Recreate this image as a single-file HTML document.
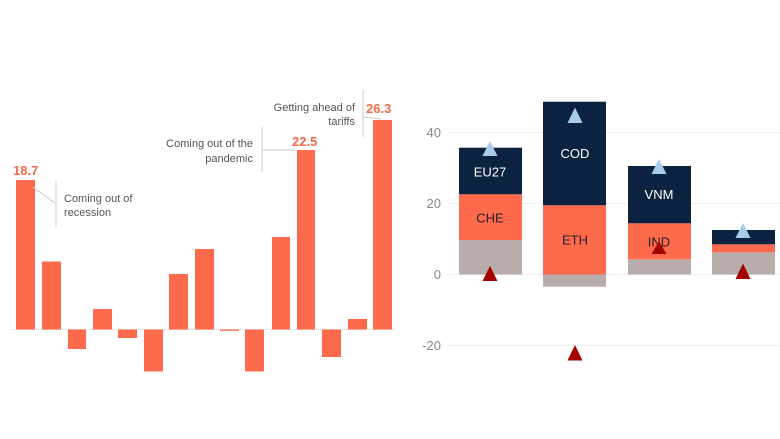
<!DOCTYPE html>
<html><head><meta charset="utf-8"><style>
html,body{margin:0;padding:0;background:#fff;}
svg{display:block;font-family:"Liberation Sans",sans-serif;}
</style></head><body>
<svg width="780" height="439" viewBox="0 0 780 439">
<!-- Left chart -->
<line x1="12" y1="329.5" x2="393" y2="329.5" stroke="#ccc" stroke-width="1" stroke-dasharray="1,1"/>
<g fill="#ff6a4d">
<rect x="16" y="180" width="19" height="149.5"/>
<rect x="42" y="261.5" width="19" height="68"/>
<rect x="68" y="329.5" width="18" height="19.5"/>
<rect x="93" y="309" width="19" height="20.5"/>
<rect x="118" y="329.5" width="19" height="8.5"/>
<rect x="144" y="329.5" width="19" height="42"/>
<rect x="169" y="274" width="19" height="55.5"/>
<rect x="195" y="249" width="19" height="80.5"/>
<rect x="220" y="329.5" width="19" height="1.3"/>
<rect x="245" y="329.5" width="19" height="42"/>
<rect x="272" y="237" width="18" height="92.5"/>
<rect x="297" y="150" width="18" height="179.5"/>
<rect x="322" y="329.5" width="19" height="27.5"/>
<rect x="348" y="319" width="19" height="10.5"/>
<rect x="373" y="120" width="19" height="209.5"/>
</g>
<g fill="#f26a4a" font-weight="bold" font-size="13">
<text x="13" y="175">18.7</text>
<text x="292" y="146">22.5</text>
<text x="366" y="113">26.3</text>
</g>
<g stroke="#ccc" stroke-width="1" fill="none">
<line x1="56" y1="180" x2="56" y2="227"/>
<polyline points="33,187 55,203"/>
<line x1="262" y1="127" x2="262" y2="172"/>
<line x1="262" y1="150" x2="295" y2="150"/>
<line x1="363" y1="90" x2="363" y2="137"/>
<line x1="363" y1="117" x2="381" y2="119"/>
</g>
<g fill="#555" font-size="11">
<text x="64" y="202">Coming out of</text>
<text x="64" y="216">recession</text>
<text x="253" y="147" text-anchor="end">Coming out of the</text>
<text x="253" y="162" text-anchor="end">pandemic</text>
<text x="355" y="111" text-anchor="end">Getting ahead of</text>
<text x="355" y="125" text-anchor="end">tariffs</text>
</g>
<!-- Right chart -->
<g stroke="#eee" stroke-width="1">
<line x1="447" y1="132.5" x2="780" y2="132.5"/>
<line x1="447" y1="203.5" x2="780" y2="203.5"/>
<line x1="447" y1="274.5" x2="780" y2="274.5"/>
<line x1="447" y1="345.5" x2="780" y2="345.5"/>
</g>
<g fill="#888" font-size="13" text-anchor="end">
<text x="441" y="137">40</text>
<text x="441" y="208">20</text>
<text x="441" y="279">0</text>
<text x="441" y="350">-20</text>
</g>
<!-- bar1 -->
<rect x="459" y="240" width="63" height="34.5" fill="#b8adab"/>
<rect x="459" y="194.3" width="63" height="45.7" fill="#ff6a4d"/>
<rect x="459" y="147.7" width="63" height="46.6" fill="#0c2340"/>
<!-- bar2 -->
<rect x="543" y="274.5" width="63" height="12.2" fill="#b8adab"/>
<rect x="543" y="205.3" width="63" height="69.2" fill="#ff6a4d"/>
<rect x="543" y="101.7" width="63" height="103.6" fill="#0c2340"/>
<!-- bar3 -->
<rect x="628" y="259.3" width="63" height="15.2" fill="#b8adab"/>
<rect x="628" y="223.3" width="63" height="36" fill="#ff6a4d"/>
<rect x="628" y="166" width="63" height="57.3" fill="#0c2340"/>
<!-- bar4 -->
<rect x="712" y="252.3" width="63" height="22.2" fill="#b8adab"/>
<rect x="712" y="244.3" width="63" height="8" fill="#ff6a4d"/>
<rect x="712" y="230" width="63" height="14.3" fill="#0c2340"/>
<g font-size="13" text-anchor="middle">
<text x="490" y="176.5" fill="#fff">EU27</text>
<text x="490" y="222.5" fill="#222">CHE</text>
<text x="575" y="158" fill="#fff">COD</text>
<text x="575" y="244.5" fill="#222">ETH</text>
<text x="659" y="199" fill="#fff">VNM</text>
<text x="659" y="246.5" fill="#222">IND</text>
</g>
<g fill="#a8cdea">
<polygon points="490,141 482.5,156 497.5,156"/>
<polygon points="575,107.5 567.5,123 582.5,123"/>
<polygon points="659,159 651.5,174 666.5,174"/>
<polygon points="743,223 735.5,238 750.5,238"/>
</g>
<g fill="#a50000">
<polygon points="490,266 482.5,281 497.5,281"/>
<polygon points="575,345 567.5,360.5 582.5,360.5"/>
<polygon points="659,241.5 651.5,254 666.5,254"/>
<polygon points="743,263.5 735.5,279 750.5,279"/>
</g>
</svg>
</body></html>
